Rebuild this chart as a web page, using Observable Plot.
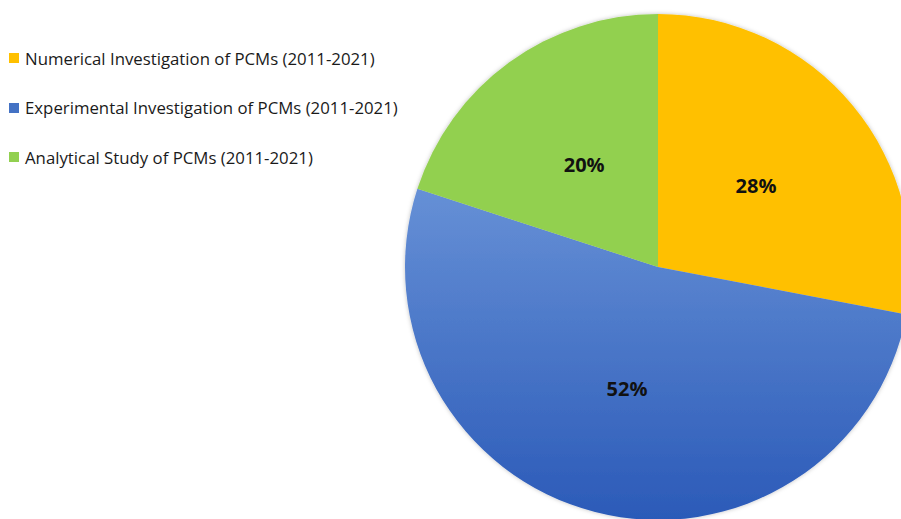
<!DOCTYPE html>
<html>
<head>
<meta charset="utf-8">
<script src="https://cdn.jsdelivr.net/npm/d3@7"></script>
<script src="https://cdn.jsdelivr.net/npm/@observablehq/plot@0.6"></script>
<style>
  html, body { margin: 0; padding: 0; background: #fff; }
  #wrap { position: relative; width: 901px; height: 519px; overflow: hidden; }
  #legend { position: absolute; left: 9px; top: 46px; font-family: "Open Sans", sans-serif; font-size: 16.8px; color: #1a1a1a; }
  .item { display: flex; align-items: center; height: 24px; margin-bottom: 25.5px; white-space: nowrap; }
  .sw { width: 10px; height: 10px; margin-right: 6px; }
</style>
</head>
<body>
<div id="wrap"><div id="legend"></div></div>
<script>
const categories = [
  "Numerical Investigation of PCMs (2011-2021)",
  "Experimental Investigation of PCMs (2011-2021)",
  "Analytical Study of PCMs (2011-2021)"
];
const values = [28, 52, 20];
const colors = ["#FFC000", "#4472C4", "#92D050"];
const labels = ["28%", "52%", "20%"];

const data = categories.map((c, i) => ({category: c, value: values[i], color: colors[i], label: labels[i]}));
const arcs = d3.pie().sort(null).value(d => d.value)(data);
const labelR = 0.5;
const labelData = arcs.map(a => {
  const mid = (a.startAngle + a.endAngle) / 2;
  return {label: a.data.label, x: labelR * Math.sin(mid), y: labelR * Math.cos(mid)};
});

function pieMark(index, scales) {
  const cx = scales.x(0), cy = scales.y(0);
  const r = Math.abs(scales.x(1) - scales.x(0));
  const svg = d3.create("svg:g");
  const defs = svg.append("defs");
  const grad = defs.append("linearGradient").attr("id", "blueGrad")
    .attr("x1", 0).attr("y1", 0).attr("x2", 0).attr("y2", 1);
  grad.append("stop").attr("offset", "0%").attr("stop-color", "#6690D6");
  grad.append("stop").attr("offset", "100%").attr("stop-color", "#2B5AB8");
  const flt = defs.append("filter").attr("id", "sh").attr("x", "-10%").attr("y", "-10%").attr("width", "120%").attr("height", "120%");
  flt.append("feDropShadow").attr("dx", 0).attr("dy", 0).attr("stdDeviation", 2).attr("flood-color", "#000").attr("flood-opacity", 0.25);
  const arc = d3.arc().innerRadius(0).outerRadius(r);
  const g = svg.append("g").attr("transform", `translate(${cx},${cy})`).attr("filter", "url(#sh)");
  g.selectAll("path").data(arcs).join("path")
    .attr("d", arc)
    .attr("fill", (d, i) => i === 1 ? "url(#blueGrad)" : d.data.color);
  return svg.node();
}

const chart = Plot.plot({
  width: 901,
  height: 519,
  margin: 0,
  x: {type: "linear", domain: [-1, 1], range: [405, 911], axis: null},
  y: {type: "linear", domain: [-1, 1], range: [520, 14], axis: null},
  style: {fontFamily: "Open Sans, sans-serif", background: "transparent"},
  marks: [
    pieMark,
    Plot.text(labelData, {x: "x", y: "y", text: "label", fontSize: 20, fontWeight: "bold", fill: "#111"})
  ]
});
chart.style.position = "absolute";
chart.style.left = "0";
chart.style.top = "0";
document.getElementById("wrap").prepend(chart);

const legend = d3.select("#legend");
data.forEach(d => {
  const it = legend.append("div").attr("class", "item");
  it.append("div").attr("class", "sw").style("background", d.color);
  it.append("span").text(d.category);
});
</script>
</body>
</html>
